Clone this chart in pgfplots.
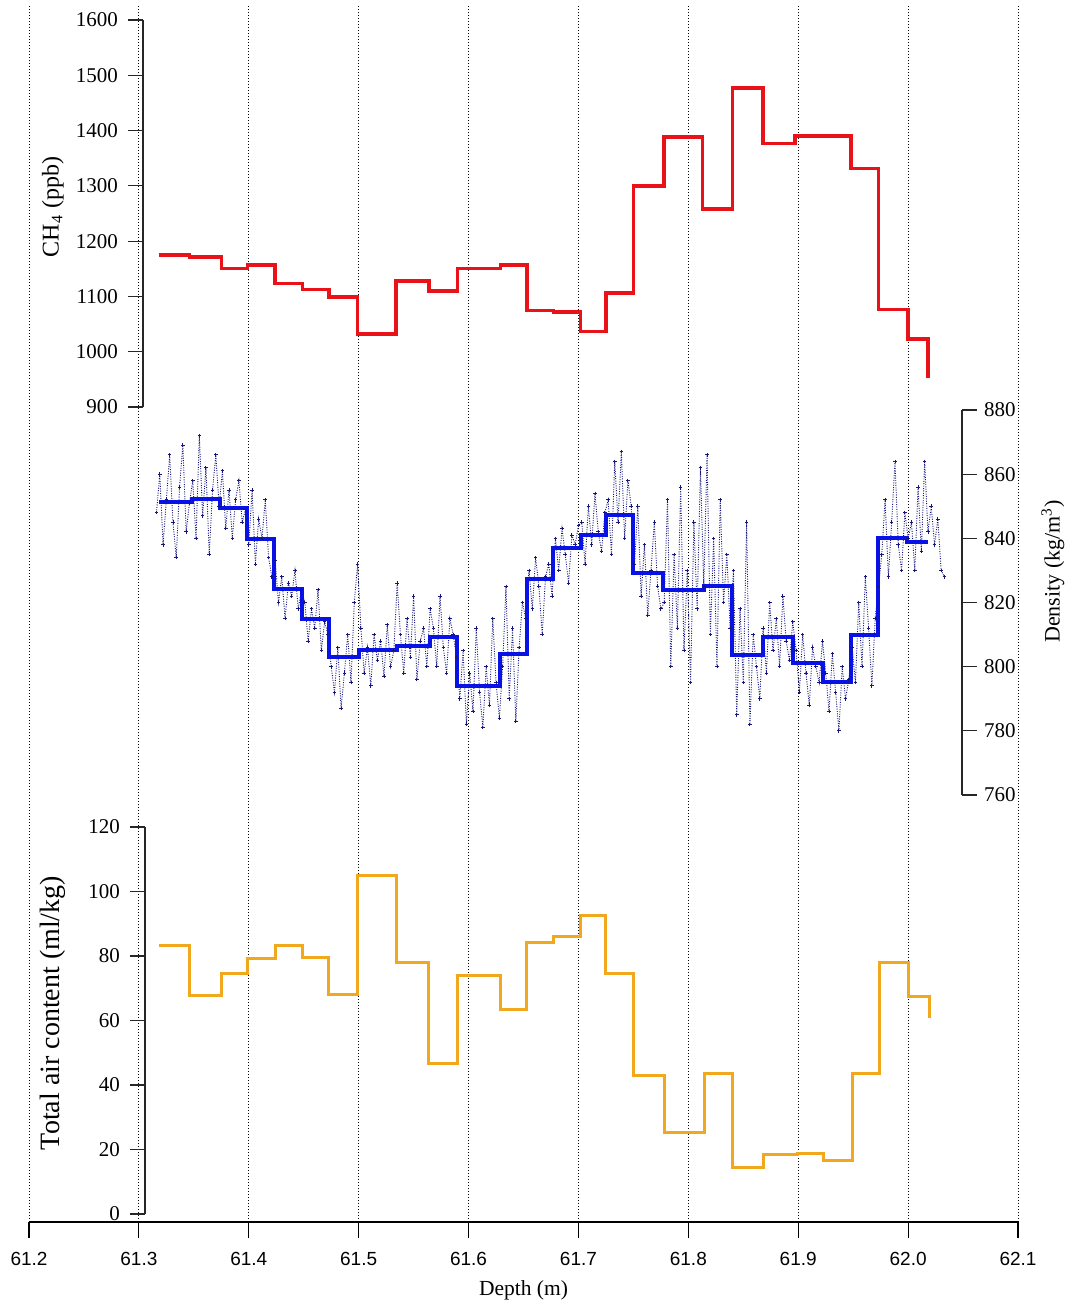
\documentclass[border=0pt]{standalone}
\usepackage{fontspec}
\setmainfont{Liberation Serif}
\newfontfamily\arialfont{Liberation Sans}
\usepackage{pgfplots}
\pgfplotsset{compat=1.18}

\definecolor{ch4red}{RGB}{232,18,24}
\definecolor{rhoblue}{RGB}{8,18,228}
\definecolor{rawnavy}{RGB}{22,22,125}
\definecolor{airorange}{RGB}{242,168,28}

\pgfplotsset{
  panel/.style={
    scale only axis, anchor=south west, clip=false,
    axis x line=none, xtick=\empty,
    tick align=outside, major tick length=7.5pt,
    axis line style={-, black!85, line width=0.55pt},
    ytick style={black!85, line width=0.55pt},
    yticklabel style={font=\fontsize{10.5}{12}\selectfont},
    /pgf/number format/.cd, 1000 sep={}, assume math mode=true,
  },
  leftpanel/.style={panel, axis y line*=left, yticklabel style={xshift=-1.5pt}},
}

\begin{document}
\begin{tikzpicture}
\useasboundingbox (0,0) rectangle (535.5pt,652pt);

% common depth axis with the vertical grid
\begin{axis}[
  at={(14.5pt,41pt)}, anchor=south west, scale only axis,
  width=494.5pt, height=608.5pt,
  xmin=61.2, xmax=62.1, ymin=0, ymax=1,
  axis x line*=bottom, axis y line=none,
  axis line style={-, black, line width=0.6pt},
  xtick={61.2,61.3,61.4,61.5,61.6,61.7,61.8,61.9,62.0,62.1},
  tick align=outside, major tick length=8pt,
  xtick style={black, line width=0.6pt},
  xmajorgrids=true,
  major grid style={black, line width=0.45pt, dash pattern=on 0.6pt off 0.9pt},
  xticklabel style={font=\arialfont\fontsize{9.5}{11}\selectfont, yshift=-3.5pt},
  /pgf/number format/.cd, fixed, fixed zerofill, precision=1, assume math mode=true,
  /pgfplots/.cd,
  xlabel={Depth (m)},
  xlabel style={at={(axis description cs:0.5,0)}, anchor=center, yshift=-34pt,
    font=\fontsize{10.75}{13}\selectfont},
]
\addplot[draw=none] coordinates {(61.2,0)};
\end{axis}

% CH4
\begin{axis}[leftpanel,
  at={(71.5pt,448.5pt)}, width=437.5pt, height=193.5pt,
  xmin=61.3037, xmax=62.1, ymin=900, ymax=1600,
  ytick={900,1000,1100,1200,1300,1400,1500,1600},
  ylabel={CH\textsubscript{4} (ppb)},
  ylabel style={at={(axis description cs:-0.1029,0.5168)}, anchor=center,
    font=\fontsize{12}{14}\selectfont},
]
\addplot[const plot, ch4red, line width=1.7pt] coordinates {
  (61.318,1175) (61.346,1171) (61.375,1150) (61.399,1157) (61.424,1123)
  (61.449,1112) (61.473,1099) (61.499,1032) (61.534,1128) (61.564,1110)
  (61.590,1150) (61.629,1157) (61.653,1074) (61.677,1072) (61.702,1036)
  (61.725,1106) (61.750,1300) (61.778,1388) (61.813,1258) (61.840,1477)
  (61.868,1377) (61.897,1390) (61.948,1331) (61.973,1076) (62.000,1023)
  (62.018,953)
};
\end{axis}

% density
\begin{axis}[panel,
  at={(14.5pt,254.5pt)}, width=466.5pt, height=192.5pt,
  xmin=61.2, xmax=62.049, ymin=760, ymax=880,
  axis y line*=right,
  ytick={760,780,800,820,840,860,880},
  ylabel={Density (kg/m\textsuperscript{3})},
  ylabel style={at={(axis description cs:1.0975,0.5805)}, anchor=center,
    font=\fontsize{11}{13}\selectfont},
]
\addplot[rawnavy, line width=0.45pt, dash pattern=on 0.5pt off 0.7pt, mark=+, mark size=0.9pt,
  mark options={solid, line width=0.45pt}] coordinates {
(61.316,848)(61.319,860)(61.322,838)(61.325,852)(61.328,866)(61.331,845)(61.334,834)(61.337,856)(61.340,869)(61.343,842)(61.346,851)
(61.349,858)(61.352,840)(61.355,872)(61.358,847)(61.361,862)(61.364,835)(61.367,855)(61.370,866)
(61.373,850)(61.376,861)(61.379,843)(61.382,855)(61.385,840)(61.388,852)(61.391,858)(61.394,845)(61.397,849)
(61.400,838)(61.403,855)(61.406,832)(61.409,846)(61.412,840)(61.415,852)(61.418,834)(61.421,828)
(61.424,833)(61.427,820)(61.430,828)(61.433,815)(61.436,826)(61.439,822)(61.442,830)(61.445,818)(61.448,824)
(61.451,820)(61.454,808)(61.457,818)(61.460,812)(61.463,824)(61.466,805)(61.469,814)(61.472,810)
(61.475,800)(61.478,792)(61.481,806)(61.484,787)(61.487,798)(61.490,810)(61.493,795)(61.496,820)(61.499,832)
(61.502,812)(61.505,798)(61.508,806)(61.511,794)(61.514,810)(61.517,802)(61.520,808)(61.523,797)(61.526,813)(61.529,800)(61.532,805)(61.535,826)
(61.538,810)(61.541,798)(61.544,815)(61.547,803)(61.550,822)(61.553,796)(61.556,808)(61.559,812)(61.562,800)(61.565,818)
(61.568,812)(61.571,800)(61.574,822)(61.577,806)(61.580,798)(61.583,815)(61.586,810)(61.589,803)
(61.592,790)(61.595,805)(61.598,782)(61.601,798)(61.604,786)(61.607,812)(61.610,792)(61.613,781)(61.616,800)(61.619,788)(61.622,815)(61.625,795)(61.628,784)
(61.631,800)(61.634,825)(61.637,790)(61.640,812)(61.643,783)(61.646,806)(61.649,820)(61.652,815)
(61.655,830)(61.658,818)(61.661,834)(61.664,825)(61.667,810)(61.670,828)(61.673,832)(61.676,822)
(61.679,840)(61.682,830)(61.685,843)(61.688,835)(61.691,826)(61.694,841)(61.697,838)(61.700,844)
(61.703,845)(61.706,832)(61.709,850)(61.712,838)(61.715,854)(61.718,842)(61.721,836)(61.724,848)
(61.727,852)(61.730,835)(61.733,864)(61.736,845)(61.739,867)(61.742,840)(61.745,858)(61.748,850)
(61.751,832)(61.754,850)(61.757,822)(61.760,838)(61.763,816)(61.766,830)(61.769,845)(61.772,825)(61.775,818)
(61.778,820)(61.781,852)(61.784,800)(61.787,835)(61.790,812)(61.793,856)(61.796,805)(61.799,830)(61.802,795)(61.805,845)(61.808,818)(61.811,862)(61.814,825)
(61.817,866)(61.820,810)(61.823,840)(61.826,800)(61.829,852)(61.832,820)(61.835,835)(61.838,812)
(61.841,830)(61.844,785)(61.847,818)(61.850,795)(61.853,845)(61.856,782)(61.859,810)(61.862,800)(61.865,790)
(61.868,812)(61.871,798)(61.874,820)(61.877,805)(61.880,815)(61.883,800)(61.886,822)(61.889,808)(61.892,802)(61.895,814)
(61.898,805)(61.901,792)(61.904,810)(61.907,798)(61.910,788)(61.913,806)(61.916,800)(61.919,795)(61.922,808)
(61.925,798)(61.928,786)(61.931,804)(61.934,792)(61.937,780)(61.940,800)(61.943,790)(61.946,796)
(61.949,806)(61.952,795)(61.955,820)(61.958,800)(61.961,828)(61.964,812)(61.967,794)(61.970,815)(61.973,825)
(61.976,835)(61.979,852)(61.982,828)(61.985,845)(61.988,864)(61.991,838)(61.994,830)(61.997,848)(62.000,840)
(62.003,845)(62.006,830)(62.009,856)(62.012,836)(62.015,864)(62.018,842)(62.021,850)(62.024,838)(62.027,846)(62.030,830)(62.033,828)
};
\addplot[const plot, rhoblue, line width=2pt] coordinates {
  (61.3183,851.3) (61.3483,852.3) (61.3738,849.5) (61.3984,839.8) (61.4229,824.2)
  (61.4484,814.9) (61.4730,803.0) (61.5003,805.2) (61.5349,806.4) (61.5649,809.2)
  (61.5894,794.0) (61.6286,804.0) (61.6531,827.3) (61.6768,837.0) (61.7023,841.0)
  (61.7250,847.3) (61.7496,829.2) (61.7769,823.9) (61.8142,825.1) (61.8397,803.6)
  (61.8679,809.2) (61.8952,801.1) (61.9225,795.2) (61.9480,809.9) (61.9725,840.1)
  (61.9989,838.9) (62.0180,838.9)
};
\end{axis}

% total air content
\begin{axis}[leftpanel,
  at={(72.5pt,45pt)}, width=436.5pt, height=193.5pt,
  xmin=61.3056, xmax=62.1, ymin=0, ymax=120,
  ytick={0,20,40,60,80,100,120},
  ylabel={Total air content (ml/kg)},
  ylabel style={at={(axis description cs:-0.1054,0.5194)}, anchor=center,
    font=\fontsize{14}{16}\selectfont},
]
\addplot[const plot, airorange, line width=1.5pt] coordinates {
  (61.318,83.1) (61.346,67.9) (61.375,74.7) (61.399,79.1) (61.424,83.4)
  (61.449,79.4) (61.473,68.2) (61.499,105.1) (61.534,78.1) (61.564,46.8)
  (61.590,74.1) (61.629,63.3) (61.653,84.3) (61.677,86.2) (61.702,92.7)
  (61.725,74.7) (61.750,42.8) (61.778,25.4) (61.815,43.7) (61.840,14.3)
  (61.868,18.3) (61.899,18.9) (61.923,16.7) (61.949,43.7) (61.974,78.1)
  (62.000,67.3) (62.019,60.8)
};
\end{axis}
\end{tikzpicture}
\end{document}
